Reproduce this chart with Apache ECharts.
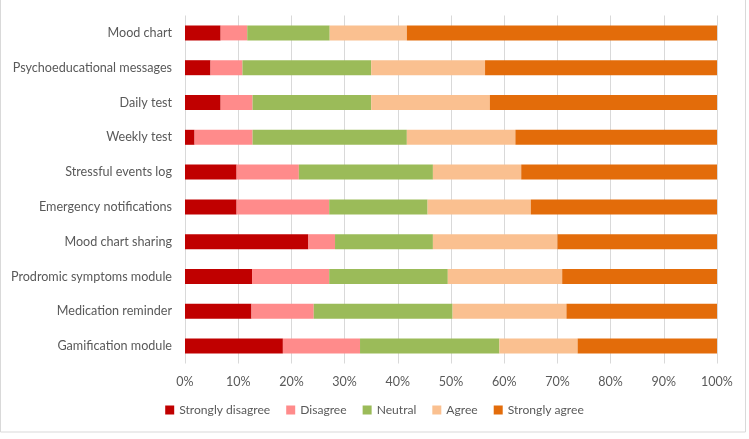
<!DOCTYPE html>
<html>
<head>
<meta charset="utf-8">
<script src="https://cdn.jsdelivr.net/npm/echarts@6/dist/echarts.min.js"></script>
<style>
  html, body { margin: 0; padding: 0; background: #fff; }
  #main { width: 749px; height: 439px; }
</style>
</head>
<body>
<div id="main"></div>
<script>
// categories, top to bottom
var categories = ['Mood chart', 'Psychoeducational messages', 'Daily test', 'Weekly test',
  'Stressful events log', 'Emergency notifications', 'Mood chart sharing',
  'Prodromic symptoms module', 'Medication reminder', 'Gamification module'];

// percentages per answer
var stronglyDisagree = [6.7, 4.8, 6.7, 1.8, 9.7, 9.7, 23.2, 12.6, 12.5, 18.4];
var disagree = [5.0, 6.0, 6.0, 10.9, 11.7, 17.4, 5.0, 14.5, 11.7, 14.5];
var neutral = [15.5, 24.2, 22.3, 29.0, 25.2, 18.5, 18.4, 22.3, 26.1, 26.2];
var agree = [14.5, 21.4, 22.3, 20.4, 16.6, 19.4, 23.4, 21.5, 21.4, 14.7];
var stronglyAgree = [58.3, 43.6, 42.7, 37.9, 36.8, 35.0, 30.0, 29.1, 28.3, 26.2];

var chart = echarts.init(document.getElementById('main'));

var font = 'Lato, "Open Sans", sans-serif';

function bar(name, data, color) {
  return {
    name: name,
    type: 'bar',
    stack: 'total',
    barWidth: 15,
    itemStyle: { color: color },
    data: data
  };
}

var option = {
  animation: false,
  textStyle: { fontFamily: font },
  graphic: [{
    type: 'rect',
    shape: { x: 0.5, y: -2, width: 745, height: 434 },
    style: { fill: 'none', stroke: '#d9d9d9', lineWidth: 1 },
    silent: true
  }],
  legend: {
    bottom: 18,
    left: 'center',
    itemWidth: 9,
    itemHeight: 9,
    itemGap: 16,
    icon: 'rect',
    textStyle: { color: '#595959', fontSize: 12.1, fontFamily: font },
    data: ['Strongly disagree', 'Disagree', 'Neutral', 'Agree', 'Strongly agree']
  },
  grid: {
    left: 185,
    right: 32,
    top: 15.5,
    bottom: 75.5,
    containLabel: false
  },
  xAxis: {
    type: 'value',
    min: 0,
    max: 100,
    interval: 10,
    axisLabel: {
      formatter: '{value}%',
      color: '#595959',
      fontSize: 12.5,
      margin: 12
    },
    axisLine: { show: false },
    axisTick: { show: false },
    splitLine: { show: true, lineStyle: { color: '#d9d9d9', width: 1 } }
  },
  yAxis: {
    type: 'category',
    inverse: true,
    data: categories,
    axisLabel: { color: '#595959', fontSize: 12.6, margin: 13 },
    axisLine: { show: false },
    axisTick: { show: false },
    splitLine: { show: false }
  },
  series: [
    bar('Strongly disagree', stronglyDisagree, '#C00000'),
    bar('Disagree', disagree, '#FF8B8B'),
    bar('Neutral', neutral, '#9BBB59'),
    bar('Agree', agree, '#FAC090'),
    bar('Strongly agree', stronglyAgree, '#E36C0A')
  ]
};

chart.setOption(option);
</script>
</body>
</html>
